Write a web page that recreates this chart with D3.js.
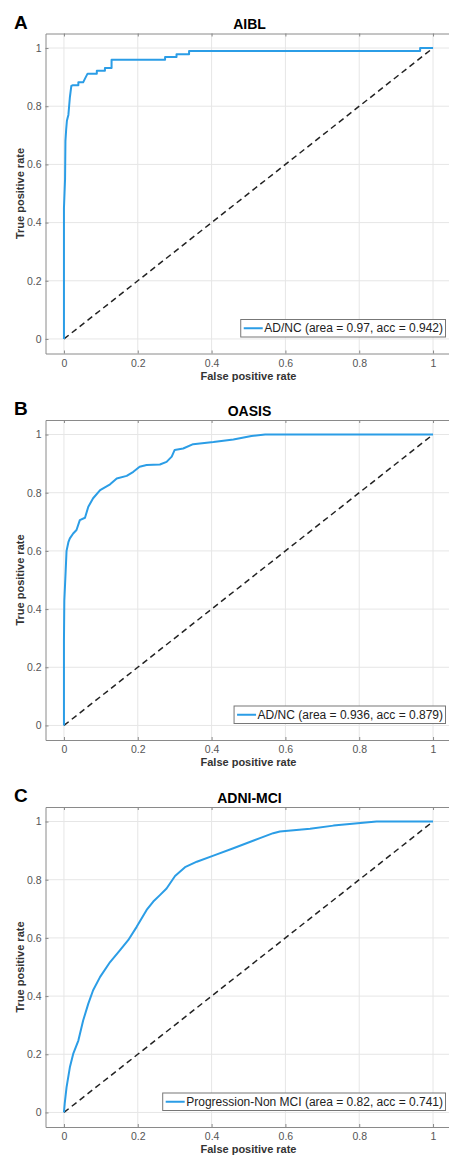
<!DOCTYPE html>
<html>
<head>
<meta charset="utf-8">
<script src="https://cdn.jsdelivr.net/npm/d3@7"></script>
<style>
  body { margin: 0; background: #fff; }
  svg { display: block; font-family: "Liberation Sans", Arial, sans-serif; }
</style>
</head>
<body>
<div id="chart"></div>
<script>
// panel text
const panelLetters = ["A", "B", "C"];
const panelTitles = ["AIBL", "OASIS", "ADNI-MCI"];
const legendLabels = [
  "AD/NC (area = 0.97, acc = 0.942)",
  "AD/NC (area = 0.936, acc = 0.879)",
  "Progression-Non MCI (area = 0.82, acc = 0.741)"
];
const tickValues = [0, 0.2, 0.4, 0.6, 0.8, 1];

// ROC curves
const aiblFpr = [0, 0, 0.003, 0.004, 0.006, 0.008, 0.010, 0.012, 0.014, 0.016, 0.018, 0.020, 0.024, 0.039, 0.039, 0.052, 0.057, 0.064,
                 0.089, 0.089, 0.111, 0.111, 0.129, 0.129, 0.274, 0.274, 0.305, 0.305, 0.339, 0.339, 0.965, 0.965, 1];
const aiblTpr = [0, 0.45, 0.55, 0.68, 0.72, 0.75, 0.76, 0.77, 0.80, 0.83, 0.85, 0.87, 0.872, 0.872, 0.882, 0.882, 0.895, 0.912,
                 0.912, 0.922, 0.922, 0.931, 0.931, 0.96, 0.96, 0.969, 0.969, 0.979, 0.979, 0.99, 0.99, 1, 1];

const oasisFpr = [0, 0, 0.001, 0.0046, 0.007, 0.012, 0.016, 0.025, 0.034, 0.043, 0.057, 0.066, 0.079, 0.098, 0.125, 0.143, 0.17,
                  0.188, 0.205, 0.224, 0.26, 0.278, 0.292, 0.3, 0.323, 0.35, 0.405, 0.459, 0.508, 0.545, 1];
const oasisTpr = [0, 0.29, 0.43, 0.53, 0.6, 0.63, 0.643, 0.66, 0.672, 0.706, 0.714, 0.752, 0.781, 0.809, 0.829, 0.849, 0.858,
                  0.872, 0.889, 0.895, 0.897, 0.906, 0.924, 0.947, 0.952, 0.967, 0.974, 0.983, 0.995, 1, 1];

const adniFpr = [0, 0.002, 0.007, 0.016, 0.025, 0.039, 0.052, 0.066, 0.079, 0.098, 0.125, 0.152, 0.174, 0.197, 0.224, 0.242,
                 0.26, 0.278, 0.301, 0.328, 0.36, 0.405, 0.459, 0.531, 0.567, 0.585, 0.667, 0.73, 0.847, 1];
const adniTpr = [0, 0.03, 0.086, 0.155, 0.201, 0.247, 0.316, 0.374, 0.42, 0.466, 0.517, 0.558, 0.592, 0.638, 0.696, 0.725,
                 0.747, 0.77, 0.813, 0.843, 0.862, 0.883, 0.908, 0.943, 0.96, 0.966, 0.975, 0.986, 1, 1];

const curves = [[aiblFpr, aiblTpr], [oasisFpr, oasisTpr], [adniFpr, adniTpr]];

let width = 449, height = 1155;
let panelTops = [33.5, 420, 807];
let boxH = 320;
let blue = "#2b9de6";

let svg = d3.select("#chart")
            .append("svg")
            .attr("width", width)
            .attr("height", height);

let x = d3.scaleLinear()
          .domain([-0.05, 1.05])
          .range([45.5, 451.5]);

panelTitles.forEach((t, i) => draw_panel(i));

function draw_panel(i) {
  let top = panelTops[i];
  let bottom = top + boxH;
  let y = d3.scaleLinear()
            .domain([-0.05, 1.05])
            .range([bottom, top]);

  let g = svg.append("g");

  // grid
  g.append("g")
      .selectAll("line.vg")
      .data(tickValues)
      .enter()
      .append("line")
      .attr("x1", d => x(d)).attr("x2", d => x(d))
      .attr("y1", top).attr("y2", bottom)
      .attr("stroke", "#e6e6e6").attr("stroke-width", 1);
  g.append("g")
      .selectAll("line.hg")
      .data(tickValues)
      .enter()
      .append("line")
      .attr("x1", x.range()[0]).attr("x2", x.range()[1])
      .attr("y1", d => y(d)).attr("y2", d => y(d))
      .attr("stroke", "#e6e6e6").attr("stroke-width", 1);

  // axes, ticks pointing inwards like matlab
  let axisStyle = a => {
    a.selectAll(".domain").attr("stroke", "#8a8a8a");
    a.selectAll(".tick line").attr("stroke", "#8a8a8a");
    a.selectAll("text").attr("fill", "#555").style("font-size", "10.5px");
  };

  g.append("g")
      .attr("transform", "translate(0," + bottom + ")")
      .call(d3.axisBottom(x).tickValues(tickValues).tickFormat(d3.format("")).tickSizeInner(-3).tickSizeOuter(0).tickPadding(6))
      .call(axisStyle);

  g.append("g")
      .attr("transform", "translate(0," + top + ")")
      .call(d3.axisTop(x).tickValues(tickValues).tickFormat("").tickSizeInner(-3).tickSizeOuter(0))
      .call(axisStyle);

  g.append("g")
      .attr("transform", "translate(" + x.range()[0] + ",0)")
      .call(d3.axisLeft(y).tickValues(tickValues).tickFormat(d3.format("")).tickSizeInner(-3).tickSizeOuter(0).tickPadding(4))
      .call(axisStyle);

  // chance line
  g.append("line")
      .attr("x1", x(0)).attr("y1", y(0))
      .attr("x2", x(1)).attr("y2", y(1))
      .attr("stroke", "#222")
      .attr("stroke-width", 1.5)
      .attr("stroke-dasharray", "6,4");

  // roc curve
  let fpr = curves[i][0], tpr = curves[i][1];
  let pts = fpr.map((f, k) => [f, tpr[k]]);
  g.append("path")
      .datum(pts)
      .attr("fill", "none")
      .attr("stroke", blue)
      .attr("stroke-width", 2)
      .attr("stroke-linejoin", "round")
      .attr("d", d3.line().x(d => x(d[0])).y(d => y(d[1])));

  // titles
  g.append("text")
      .attr("x", x(0.5) + 1)
      .attr("y", top - 4.5)
      .attr("text-anchor", "middle")
      .style("font-size", "14px")
      .style("font-weight", "bold")
      .text(panelTitles[i]);

  g.append("text")
      .attr("x", 14)
      .attr("y", top - 5)
      .style("font-size", "19px")
      .style("font-weight", "bold")
      .text(panelLetters[i]);

  g.append("text")
      .attr("x", x(0.5))
      .attr("y", bottom + 26)
      .attr("text-anchor", "middle")
      .attr("fill", "#333")
      .style("font-size", "11px")
      .style("font-weight", "bold")
      .text("False positive rate");

  g.append("text")
      .attr("transform", "translate(24," + y(0.5) + ") rotate(-90)")
      .attr("text-anchor", "middle")
      .attr("fill", "#333")
      .style("font-size", "11px")
      .style("font-weight", "bold")
      .text("True positive rate");

  // legend (southeast)
  let lgRight = 445.5, lgBottom = bottom - 16.5, lgH = 17.5;
  let lg = g.append("g");
  let box = lg.append("rect")
      .attr("fill", "#fff")
      .attr("stroke", "#777")
      .attr("stroke-width", 1);
  let txt = lg.append("text")
      .attr("y", lgBottom - lgH / 2)
      .attr("dy", "0.35em")
      .attr("fill", "#222")
      .style("font-size", "12px")
      .text(legendLabels[i]);
  let tw = txt.node().getComputedTextLength();
  let tx = lgRight - 2.5 - tw;
  txt.attr("x", tx);
  box.attr("x", tx - 23.5).attr("y", lgBottom - lgH)
     .attr("width", tw + 26).attr("height", lgH);
  lg.append("line")
      .attr("x1", tx - 20.5).attr("x2", tx - 1.5)
      .attr("y1", lgBottom - lgH / 2).attr("y2", lgBottom - lgH / 2)
      .attr("stroke", blue)
      .attr("stroke-width", 2);
}
</script>
</body>
</html>
